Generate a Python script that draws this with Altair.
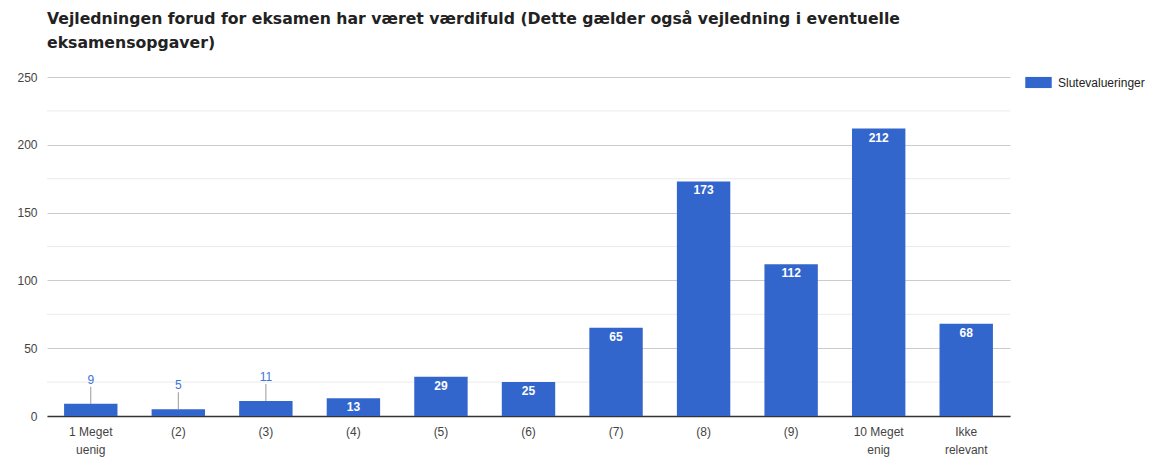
import altair as alt
import pandas as pd

categories = ["1 Meget\nuenig", "(2)", "(3)", "(4)", "(5)", "(6)", "(7)", "(8)", "(9)", "10 Meget\nenig", "Ikke\nrelevant"]
values = [9, 5, 11, 13, 29, 25, 65, 173, 112, 212, 68]
series_name = "Slutevalueringer"
minor_grid = [25, 75, 125, 175, 225]
inside_threshold = 12

df = pd.DataFrame({"cat": categories, "value": values, "series": [series_name] * len(values)})
df["inside"] = df["value"] > inside_threshold
grid_df = pd.DataFrame({"g": minor_grid})

x_enc = alt.X("cat:N", sort=categories, title=None,
              scale=alt.Scale(paddingInner=0.39, paddingOuter=0.195),
              axis=alt.Axis(labelAngle=0, labelExpr="split(datum.value, '\\n')",
                            labelFont="Liberation Sans", labelFontSize=12, labelColor="#444444",
                            labelLineHeight=18, labelPadding=10, ticks=False,
                            domainColor="#333333", domainWidth=1.5, grid=False))
y_scale = alt.Scale(domain=[0, 250], nice=False)

grid = alt.Chart(grid_df).mark_rule(color="#ebebeb", strokeWidth=1).encode(
    y=alt.Y("g:Q", scale=y_scale)
)

bars = alt.Chart(df).mark_bar(color="#3366cc").encode(
    x=x_enc,
    y=alt.Y("value:Q", scale=y_scale, title=None,
            axis=alt.Axis(values=[0, 50, 100, 150, 200, 250], domain=False, ticks=False,
                          labelFont="Liberation Sans", labelFontSize=12, labelColor="#444444",
                          labelPadding=10, gridColor="#cccccc")),
    fill=alt.Fill("series:N", scale=alt.Scale(range=["#3366cc"]),
                  legend=alt.Legend(title=None, orient="none", legendX=978, legendY=-8,
                                    symbolType="M-1,-0.42H1V0.42H-1Z", symbolSize=700,
                                    symbolStrokeWidth=0,
                                    labelFont="Liberation Sans", labelFontSize=12,
                                    labelColor="#222222", labelOffset=6)),
)

inside_text = alt.Chart(df).transform_filter("datum.inside").mark_text(
    color="white", fontWeight="bold", font="Liberation Sans", fontSize=12, dy=9, baseline="middle"
).encode(x=alt.X("cat:N", sort=categories), y=alt.Y("value:Q", scale=y_scale), text="value:Q")

leader = alt.Chart(df).transform_filter("!datum.inside").mark_rule(
    color="#999999", strokeWidth=1, y2Offset=-17
).encode(x=alt.X("cat:N", sort=categories), y=alt.Y("value:Q", scale=y_scale), y2="value:Q")

outside_text = alt.Chart(df).transform_filter("!datum.inside").mark_text(
    color="#3f74d6", font="Liberation Sans", fontSize=12, dy=-24, baseline="middle"
).encode(x=alt.X("cat:N", sort=categories), y=alt.Y("value:Q", scale=y_scale), text="value:Q")

chart = alt.layer(grid, bars, leader, outside_text, inside_text).properties(
    width=963, height=339,
    autosize=alt.AutoSizeParams(type="none"),
    padding={"left": 39, "top": 69, "right": 140, "bottom": 41},
    title=alt.TitleParams(
        ["Vejledningen forud for eksamen har været værdifuld (Dette gælder også vejledning i eventuelle",
         "eksamensopgaver)"],
        anchor="start", frame="group", font="DejaVu Sans", fontSize=15.7, fontWeight="bold",
        color="#222222", lineHeight=24, offset=2, baseline="bottom"),
).configure_view(stroke=None)

chart.save("out.html", embed_options={"renderer": "svg", "actions": False})
